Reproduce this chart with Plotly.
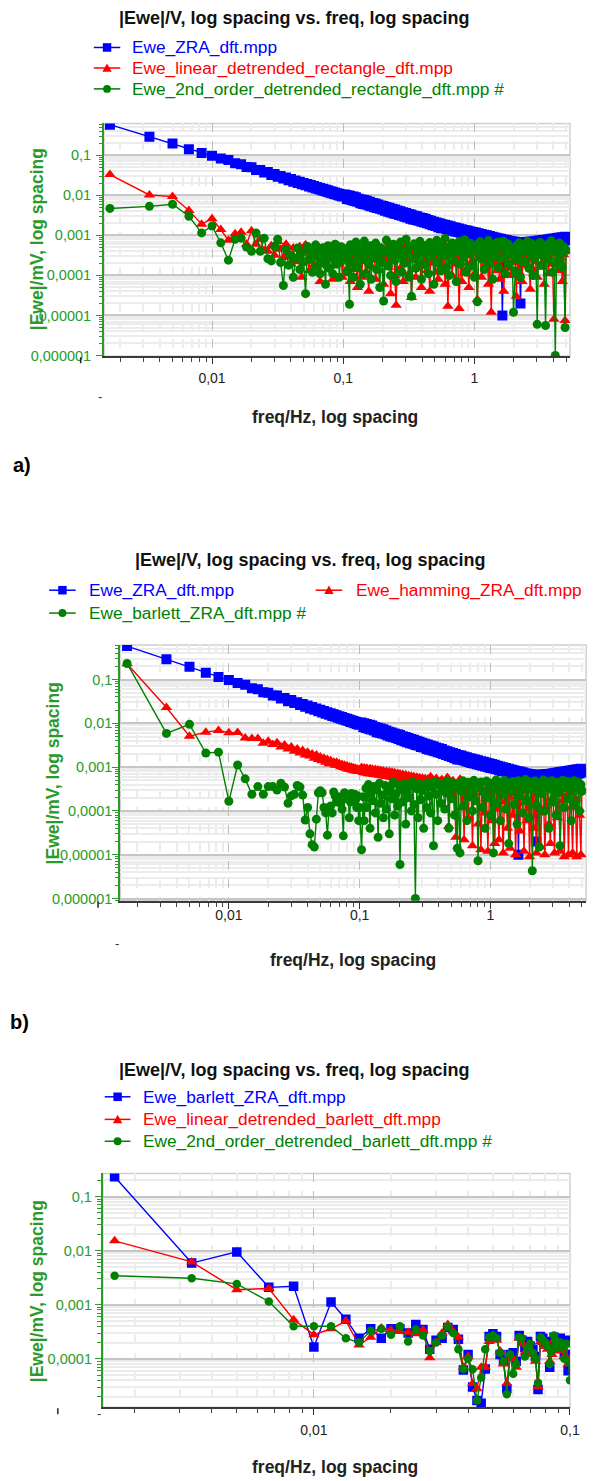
import plotly.graph_objects as go

# ---------------------------------------------------------------- data
# DFT bin numbers (bin width 1/600 Hz); low bins are shown one by one,
# the high bins are a log-thinned selection up to the 5 Hz Nyquist limit.
BIN_WIDTH_HZ = 1.0 / 600.0
BIN_LOW = [1, 2, 3, 4, 5, 6, 7, 8, 9, 10,
           11, 12, 13, 14, 15, 16, 17, 18, 19, 20,
           21, 22, 23, 24, 25, 26, 27, 28, 29, 30,
           31, 32, 33, 34, 35, 36, 37, 38, 39, 40,
           41, 42, 43, 44, 45, 46, 47, 48, 49, 50,
           51, 52, 53, 54, 55, 56, 57, 58, 59, 60]
BIN_HIGH = [62, 64, 65, 67, 68, 70, 72, 73, 75, 77,
            79, 81, 83, 85, 87, 89, 91, 94, 96, 98,
            101, 103, 106, 108, 111, 114, 117, 119, 122, 125,
            128, 132, 135, 138, 142, 145, 149, 152, 156, 160,
            164, 168, 172, 176, 181, 185, 190, 195, 199, 204,
            209, 215, 220, 225, 231, 237, 243, 249, 255, 261,
            268, 274, 281, 288, 295, 303, 310, 318, 326, 334,
            342, 351, 359, 368, 377, 387, 396, 406, 416, 427,
            437, 448, 459, 471, 482, 494, 507, 519, 532, 545,
            559, 573, 587, 601, 616, 632, 647, 663, 680, 697,
            714, 732, 750, 768, 787, 807, 827, 847, 868, 890,
            912, 934, 957, 981, 1005, 1030, 1056, 1082, 1109, 1136,
            1164, 1193, 1223, 1253, 1284, 1316, 1348, 1382, 1416, 1451,
            1487, 1524, 1561, 1600, 1640, 1680, 1722, 1764, 1808, 1853,
            1899, 1946, 1994, 2043, 2094, 2145, 2198, 2253, 2309, 2366,
            2424, 2484, 2546, 2609, 2673, 2739, 2807, 2877, 2948, 3000]

# Ewe_ZRA_dft.mpp
ZRA_LOW = [0.58, 0.29, 0.197, 0.142, 0.114, 0.097, 0.083, 0.076, 0.063, 0.060,
           0.051, 0.050, 0.043, 0.043, 0.037, 0.038, 0.032, 0.034, 0.029, 0.0305,
           0.0262, 0.0278, 0.0238, 0.0255, 0.0219, 0.0235, 0.0203, 0.0218, 0.0189, 0.0204,
           0.0177, 0.0191, 0.0166, 0.0180, 0.0157, 0.0170, 0.0148, 0.0161, 0.0141, 0.0153,
           0.0134, 0.0146, 0.0128, 0.0139, 0.0122, 0.0133, 0.0117, 0.0127, 0.0113, 0.0122,
           0.0108, 0.0118, 0.0104, 0.0113, 0.0100, 0.0109, 0.0097, 0.0105, 0.0093, 0.0102]
ZRA_HIGH = [0.0105, 0.0081, 0.0101, 0.0078, 0.0097, 0.0075, 0.0093, 0.0072, 0.0089, 0.0069,
            0.0082, 0.0063, 0.0079, 0.0061, 0.0076, 0.0059, 0.0073, 0.0056, 0.0069, 0.0053,
            0.0064, 0.0050, 0.0062, 0.0048, 0.0059, 0.0046, 0.0056, 0.0044, 0.0054, 0.0041,
            0.0051, 0.0039, 0.0049, 0.0037, 0.0046, 0.0035, 0.0044, 0.0034, 0.0042, 0.0032,
            0.0040, 0.0031, 0.0038, 0.0029, 0.0036, 0.0028, 0.0034, 0.0026, 0.0033, 0.0025,
            0.0031, 0.0024, 0.0030, 0.0023, 0.0028, 0.0022, 0.0027, 0.0021, 0.0026, 0.0020,
            0.0024, 0.0019, 0.0023, 0.0018, 0.0022, 0.0017, 0.0021, 0.0016, 0.0020, 0.0015,
            0.0019, 0.00150, 0.00184, 0.00143, 0.00176, 0.00137, 0.00168, 0.00131, 0.00160, 0.00125,
            0.00155, 0.00121, 0.00149, 0.00116, 0.00143, 0.00112, 0.00137, 0.00108, 0.00132, 0.00104,
            0.00127, 0.00100, 0.00122, 0.00096, 0.00118, 0.00093, 0.00113, 0.00089, 0.00108, 0.00085,
            0.00104, 0.00082, 0.00100, 0.00079, 0.00096, 0.00076, 0.00092, 0.00073, 0.00088, 0.00070,
            0.00085, 0.00067, 0.00082, 0.00001, 0.00079, 0.00062, 0.00076, 0.00060, 0.00073, 0.00058,
            0.00071, 0.00056, 0.00069, 0.00054, 0.00068, 0.00053, 0.00002, 0.00052, 0.00067, 0.00053,
            0.00068, 0.00054, 0.00069, 0.00055, 0.00070, 0.00056, 0.00071, 0.00057, 0.00073, 0.00058,
            0.00074, 0.00059, 0.00076, 0.00060, 0.00078, 0.00062, 0.00080, 0.00063, 0.00082, 0.00065,
            0.00084, 0.00066, 0.00086, 0.00068, 0.00088, 0.00070, 0.00090, 0.00072, 0.00092, 0.00075]

# Ewe_linear_detrended_rectangle_dft.mpp
LIN_RECT_LOW = [0.033, 0.0102, 0.0093, 0.0042, 0.0019, 0.0026, 0.0014, 0.00075, 0.0011, 0.0012,
                0.0006, 0.0013, 0.0006, 0.0008, 0.00042, 0.0004, 0.00055, 0.00032, 0.0007, 0.00045,
                0.00028, 0.0006, 0.00035, 0.00019, 0.00048, 0.00022, 0.0003, 0.00052, 0.00009, 0.0004,
                0.00058, 0.00025, 0.00013, 0.00036, 0.00044, 0.00018, 0.0003, 0.00054, 0.00021, 0.00007,
                0.00033, 0.00046, 0.0002, 0.00028, 0.0005, 0.00017, 0.00038, 0.00025, 0.00045, 0.00008,
                0.0003, 0.00041, 0.00022, 0.00034, 0.00055, 0.00019, 0.00031, 0.00043, 0.00009, 0.00026]
LIN_RECT_HIGH = [0.00038, 0.00011, 0.00026, 0.00052, 0.00007, 0.00019, 0.00041, 0.00014, 0.00031, 0.00005,
                 0.00047, 0.00022, 0.00009, 0.00035, 0.00060, 0.00012, 0.00028, 0.00004, 0.00044, 0.00017,
                 0.00033, 0.00055, 0.00008, 0.00024, 0.00039, 0.00013, 0.00050, 0.00030, 0.00006, 0.00021,
                 0.00042, 0.00016, 0.00065, 0.000035, 0.00027, 0.00046, 0.00010, 0.000018, 0.00036, 0.00054,
                 0.00015, 0.00032, 0.00007, 0.00048, 0.00023, 0.00058, 0.00011, 0.00037, 0.000028, 0.00026,
                 0.00044, 0.00009, 0.00034, 0.00062, 0.00018, 0.00005, 0.00040, 0.00025, 0.00051, 0.00013,
                 0.00030, 0.00004, 0.00046, 0.00020, 0.00057, 0.00012, 0.00035, 0.00008, 0.00027, 0.00049,
                 0.00016, 0.00038, 0.00006, 0.00053, 0.000017, 0.00029, 0.00043, 0.00010, 0.00033, 0.00060,
                 0.00019, 0.00045, 0.000015, 0.00028, 0.00007, 0.00040, 0.00055, 0.00014, 0.00031, 0.00005,
                 0.00047, 0.00022, 0.00036, 0.00011, 0.00058, 0.000025, 0.00026, 0.00042, 0.00009, 0.00034,
                 0.00052, 0.00017, 0.00039, 0.00006, 0.00029, 0.000012, 0.00045, 0.00020, 0.00056, 0.00013,
                 0.00035, 0.00008, 0.00048, 0.00024, 0.00004, 0.00037, 0.00060, 0.00015, 0.00030, 0.00010,
                 0.00044, 0.00021, 0.00053, 0.000030, 0.00033, 0.00012, 0.00046, 0.00007, 0.00027, 0.00041,
                 0.00018, 0.00057, 0.00025, 0.000045, 0.00038, 0.00014, 0.00050, 0.00022, 0.00009, 0.00035,
                 0.00061, 0.00016, 0.00043, 0.00006, 0.00031, 0.00048, 0.00011, 0.00026, 0.00040, 0.00019,
                 0.000008, 0.00036, 0.00054, 0.00013, 0.00029, 0.00045, 0.00007, 0.00033, 0.0000075, 0.00039]

# Ewe_2nd_order_detrended_rectangle_dft.mpp
QUAD_RECT_LOW = [0.0047, 0.0053, 0.006, 0.003, 0.00115, 0.0017, 0.00065, 0.00024, 0.0008, 0.00085,
                 0.00051, 0.0004, 0.00115, 0.0004, 0.00085, 0.00026, 0.00023, 0.00053, 0.0008, 0.00021,
                 0.000056, 0.00045, 0.00018, 0.00032, 0.00009, 0.00027, 0.00048, 0.00014, 0.00036, 0.00022,
                 0.000035, 0.00053, 0.00025, 0.00041, 0.00012, 0.0003, 0.00058, 0.00017, 0.00039, 0.00011,
                 0.00026, 0.00049, 0.0002, 0.00006, 0.00034, 0.00055, 0.00015, 0.00029, 0.00044, 0.00011,
                 0.00037, 0.0006, 0.00019, 0.00027, 0.00047, 0.00009, 0.00033, 0.00052, 0.00023, 0.0004]
QUAD_RECT_HIGH = [0.00046, 0.00013, 0.00031, 0.000019, 0.00058, 0.00022, 0.00009, 0.00040, 0.00068, 0.00016,
                  0.00035, 0.00006, 0.00050, 0.00025, 0.00072, 0.00011, 0.00038, 0.00019, 0.00055, 0.00008,
                  0.00043, 0.00028, 0.00064, 0.00014, 0.00033, 0.00005, 0.00048, 0.00021, 0.000023, 0.00039,
                  0.00076, 0.00017, 0.00052, 0.00010, 0.00036, 0.00060, 0.00024, 0.00007, 0.00045, 0.00029,
                  0.00068, 0.00012, 0.00041, 0.00020, 0.00080, 0.00034, 0.00009, 0.00053, 0.00003, 0.00027,
                  0.00062, 0.00015, 0.00047, 0.00023, 0.00071, 0.00008, 0.00037, 0.00056, 0.00018, 0.00042,
                  0.00011, 0.00066, 0.00030, 0.00050, 0.00006, 0.00039, 0.00075, 0.00021, 0.00044, 0.00013,
                  0.00058, 0.00032, 0.00084, 0.00016, 0.00048, 0.00010, 0.00036, 0.00064, 0.00024, 0.00054,
                  0.00007, 0.00041, 0.00070, 0.00019, 0.00046, 0.00028, 0.00078, 0.00012, 0.00052, 0.00035,
                  0.00063, 0.00017, 0.00043, 0.00009, 0.00057, 0.000022, 0.00038, 0.00069, 0.00026, 0.00049,
                  0.00014, 0.00060, 0.00033, 0.00074, 0.00020, 0.00045, 0.00008, 0.00056, 0.00030, 0.00066,
                  0.00016, 0.00068, 0.00051, 0.00027, 0.00071, 0.00011, 0.00042, 0.00061, 0.00019, 0.00047,
                  0.00034, 0.000012, 0.00013, 0.00055, 0.00025, 0.00065, 0.00009, 0.00040, 0.00058, 0.00022,
                  0.00048, 0.00070, 0.00015, 0.00037, 0.00062, 0.00010, 0.00053, 0.00029, 0.000006, 0.00044,
                  0.00067, 0.00018, 0.00050, 0.00031, 0.0000056, 0.00059, 0.00024, 0.00046, 0.00073, 0.00012,
                  0.00039, 0.000001, 0.00057, 0.00021, 0.00064, 0.00035, 0.00016, 0.00052, 0.000005, 0.00043]

# Ewe_hamming_ZRA_dft.mpp
HAMMING_LOW = [0.23, 0.023, 0.0051, 0.0063, 0.0069, 0.0061, 0.0062, 0.0046, 0.0045, 0.0045,
               0.0035, 0.0039, 0.0033, 0.0036, 0.0029, 0.0032, 0.0026, 0.0029, 0.0023, 0.0026,
               0.0021, 0.0024, 0.0019, 0.0022, 0.0018, 0.0020, 0.0016, 0.0019, 0.0015, 0.0017,
               0.0014, 0.0016, 0.0013, 0.0015, 0.0012, 0.0014, 0.0012, 0.0013, 0.0011, 0.0013,
               0.0011, 0.0012, 0.00102, 0.00115, 0.00098, 0.0011, 0.00094, 0.00106, 0.0009, 0.00102,
               0.00088, 0.00099, 0.00085, 0.00096, 0.00083, 0.00093, 0.00081, 0.0009, 0.00079, 0.00088]
HAMMING_HIGH = [0.00098, 0.00075, 0.00096, 0.00073, 0.00094, 0.00071, 0.00092, 0.00070, 0.00090, 0.00068,
                0.00088, 0.00067, 0.00086, 0.00065, 0.00084, 0.00064, 0.00082, 0.00062, 0.00080, 0.00061,
                0.00078, 0.00059, 0.00076, 0.00058, 0.00074, 0.00056, 0.00072, 0.00055, 0.00070, 0.00053,
                0.00068, 0.00052, 0.00066, 0.00050, 0.00064, 0.00049, 0.00062, 0.00047, 0.00060, 0.00046,
                0.00059, 0.00045, 0.00057, 0.00044, 0.00056, 0.00042, 0.00054, 0.00041, 0.00053, 0.00040,
                0.00060, 0.00039, 0.00050, 0.00037, 0.00055, 0.00036, 0.00047, 0.00028, 0.00052, 0.00034,
                0.00045, 0.00031, 0.00058, 0.000045, 0.00038, 0.00026, 0.00049, 0.00033, 0.000025, 0.00042,
                0.00030, 0.00053, 0.00012, 0.00036, 0.000022, 0.00044, 0.00024, 0.00007, 0.00039, 0.00028,
                0.000016, 0.00041, 0.00019, 0.00033, 0.00005, 0.00037, 0.000013, 0.00026, 0.00043, 0.00009,
                0.00031, 0.000012, 0.00022, 0.00038, 0.00006, 0.00029, 0.000018, 0.00035, 0.00011, 0.000022,
                0.00040, 0.00016, 0.000011, 0.00027, 0.00034, 0.00004, 0.00021, 0.000014, 0.00037, 0.00008,
                0.00025, 0.000010, 0.00032, 0.00015, 0.000035, 0.00039, 0.00020, 0.000012, 0.00028, 0.00006,
                0.00036, 0.000009, 0.00018, 0.00030, 0.00004, 0.00023, 0.000011, 0.00033, 0.00009, 0.000015,
                0.00027, 0.00038, 0.000010, 0.00013, 0.00031, 0.00005, 0.000018, 0.00035, 0.00020, 0.000011,
                0.00029, 0.00007, 0.00037, 0.000012, 0.00024, 0.00017, 0.000009, 0.00032, 0.00045, 0.000010,
                0.00026, 0.00012, 0.000011, 0.00034, 0.00019, 0.000009, 0.00030, 0.00008, 0.000010, 0.00033]

# Ewe_barlett_ZRA_dft.mpp
BARLETT_LOW = [0.233, 0.0059, 0.0095, 0.0021, 0.0022, 0.000166, 0.00112, 0.00054, 0.00024, 0.00036,
               0.00024, 0.00036, 0.00036, 0.0003, 0.00043, 0.00035, 0.00015, 0.00022, 0.00024, 0.00038,
               0.00035, 0.00023, 0.000062, 0.00012, 0.00003, 0.000017, 0.000015, 0.000065, 0.00026, 0.00029,
               0.00026, 0.00012, 0.00009, 0.000028, 0.00012, 0.00013, 0.00009, 0.00027, 0.00022, 0.00016,
               0.00021, 0.00017, 0.00015, 0.00011, 0.000027, 0.00026, 0.00024, 0.00019, 0.00021, 0.00007,
               0.00016, 0.00025, 0.00023, 0.00017, 0.00024, 0.00018, 0.00012, 0.00022, 0.00006, 0.00012]
BARLETT_HIGH = [0.000013, 0.00021, 0.00006, 0.00033, 0.00012, 0.00040, 0.00004, 0.00026, 0.00017, 0.00036,
                0.00009, 0.00030, 0.000025, 0.00043, 0.00015, 0.00023, 0.00007, 0.00038, 0.00011, 0.00028,
                0.00003, 0.00035, 0.00019, 0.00045, 0.00008, 0.00025, 0.00013, 0.00039, 0.000006, 0.00031,
                0.00016, 0.00042, 0.00005, 0.00027, 0.00020, 0.00037, 0.00010, 0.00046, 0.00014, 0.000001,
                0.00032, 0.00007, 0.00041, 0.00018, 0.00029, 0.00004, 0.00036, 0.00012, 0.00044, 0.00022,
                0.00009, 0.00034, 0.000016, 0.00047, 0.00024, 0.00006, 0.00039, 0.00015, 0.00030, 0.00042,
                0.00011, 0.00026, 0.00048, 0.00004, 0.00035, 0.00019, 0.00044, 0.00008, 0.00033, 0.000014,
                0.00040, 0.000011, 0.00028, 0.00049, 0.00013, 0.00037, 0.00006, 0.00045, 0.00021, 0.00032,
                0.00010, 0.00050, 0.00017, 0.00041, 0.0000073, 0.00034, 0.00046, 0.00012, 0.00027, 0.00004,
                0.00048, 0.00020, 0.00036, 0.00008, 0.00043, 0.000011, 0.00031, 0.00051, 0.00015, 0.00039,
                0.00006, 0.00045, 0.00024, 0.00050, 0.00011, 0.00035, 0.000018, 0.00042, 0.00029, 0.00047,
                0.00014, 0.00038, 0.00005, 0.00049, 0.00022, 0.00044, 0.00009, 0.00033, 0.00052, 0.00017,
                0.00040, 0.00007, 0.00046, 0.0000043, 0.00030, 0.00048, 0.00013, 0.00037, 0.000015, 0.00043,
                0.00025, 0.00051, 0.00010, 0.00036, 0.00046, 0.00004, 0.00032, 0.00049, 0.00016, 0.00041,
                0.00008, 0.00045, 0.00027, 0.000016, 0.00039, 0.00050, 0.00012, 0.00034, 0.00047, 0.00019,
                0.00043, 0.00006, 0.00037, 0.00049, 0.00014, 0.00031, 0.00046, 0.00010, 0.00040, 0.00028]

# Ewe_linear_detrended_barlett_dft.mpp
LIN_BARLETT = [0.0152, 0.0062, 0.0019, 0.002, 0.00053, 0.00028, 0.00036, 0.0005, 0.00018, 0.00025,
               0.00037, 0.00034, 0.00032, 0.00031, 0.00029, 0.00034, 0.000105, 0.0002, 0.0003, 0.00043,
               0.00032, 0.00025, 0.00007, 0.00011, 0.000035, 0.000028, 0.00007, 0.00007, 0.00021, 0.00027,
               0.00022, 0.00014, 0.00008, 0.000035, 0.00011, 0.0001, 0.00007, 0.00024, 0.00019, 0.00013,
               0.00018, 0.00015, 0.00012, 0.00009, 0.00003, 0.00021, 0.0002, 0.00017, 0.00015, 0.00009,
               0.00012, 0.00022, 0.0002, 0.00014, 0.00019, 0.00015, 0.00011, 0.00018, 0.00008, 0.0001]

# Ewe_2nd_order_detrended_barlett_dft.mpp
QUAD_BARLETT = [0.00345, 0.0031, 0.00243, 0.00115, 0.0004, 0.0004, 0.0004, 0.00024, 0.0002, 0.00033,
                0.00036, 0.00028, 0.0004, 0.00021, 0.00035, 0.00027, 0.00014, 0.0002, 0.00027, 0.00039,
                0.0003, 0.00015, 0.000065, 0.0001, 0.000064, 0.000017, 0.000045, 0.00015, 0.00025, 0.00027,
                0.00024, 0.00013, 0.00009, 0.000022, 0.00012, 0.000053, 0.00008, 0.00025, 0.00024, 0.00011,
                0.00016, 0.00019, 0.00013, 0.0001, 0.000036, 0.00025, 0.00022, 0.0002, 0.00017, 0.00008,
                0.00014, 0.00027, 0.00021, 0.00016, 0.0002, 0.00017, 0.0001, 0.00019, 0.00009, 0.00004]

Y_TICK_VALS = [0.1, 0.01, 0.001, 0.0001, 0.00001, 0.000001]
Y_TICK_TEXT = ["0,1", "0,01", "0,001", "0,0001", "0,00001", "0,000001"]
X_TICK_VALS = [0.01, 0.1, 1]
X_TICK_TEXT = ["0,01", "0,1", "1"]

# ---------------------------------------------------------------- style
W, H = 603, 1481
BLUE, RED, GREEN = "#0000ff", "#ff0000", "#008000"
AXIS_GREEN = "#2a9a2a"
FONT = "Liberation Sans, Arial, sans-serif"


def px(x):
    return x / W


def py(y):
    return 1 - y / H


freq_low = [b * BIN_WIDTH_HZ for b in BIN_LOW]
freq_all = freq_low + [b * BIN_WIDTH_HZ for b in BIN_HIGH]

MINOR = [m * 10.0 ** e for e in range(-7, 1) for m in range(2, 10)]

SYMBOLS = {BLUE: "square", RED: "triangle-up", GREEN: "circle"}
SIZES_WIDE = {BLUE: 10, RED: 10, GREEN: 9}
SIZES_ZOOM = {BLUE: 9.5, RED: 10, GREEN: 8.5}

fig = go.Figure()


def series(name, x, y, color, axis, sizes):
    fig.add_trace(go.Scatter(
        x=x, y=y, mode="lines+markers", name=name,
        line=dict(color=color, width=1.4),
        marker=dict(color=color, symbol=SYMBOLS[color], size=sizes[color], line=dict(width=0)),
        xaxis="x" + axis, yaxis="y" + axis, showlegend=False,
    ))


# panel a
series("Ewe_ZRA_dft.mpp", freq_all, ZRA_LOW + ZRA_HIGH, BLUE, "", SIZES_WIDE)
series("Ewe_linear_detrended_rectangle_dft.mpp", freq_all, LIN_RECT_LOW + LIN_RECT_HIGH,
       RED, "", SIZES_WIDE)
series("Ewe_2nd_order_detrended_rectangle_dft.mpp #", freq_all, QUAD_RECT_LOW + QUAD_RECT_HIGH,
       GREEN, "", SIZES_WIDE)
# panel b
series("Ewe_ZRA_dft.mpp", freq_all, ZRA_LOW + ZRA_HIGH, BLUE, "2", SIZES_WIDE)
series("Ewe_hamming_ZRA_dft.mpp", freq_all, HAMMING_LOW + HAMMING_HIGH, RED, "2", SIZES_WIDE)
series("Ewe_barlett_ZRA_dft.mpp #", freq_all, BARLETT_LOW + BARLETT_HIGH, GREEN, "2", SIZES_WIDE)
# panel c
series("Ewe_barlett_ZRA_dft.mpp", freq_low, BARLETT_LOW, BLUE, "3", SIZES_ZOOM)
series("Ewe_linear_detrended_barlett_dft.mpp", freq_low, LIN_BARLETT, RED, "3", SIZES_ZOOM)
series("Ewe_2nd_order_detrended_barlett_dft.mpp #", freq_low, QUAD_BARLETT, GREEN, "3", SIZES_ZOOM)

# plot areas in pixels: left, right, top, bottom, x log-range, y log-range,
# tick-label standoffs for the y and x axes
PANELS = [
    dict(l=105.8, r=579.6, t=124, b=358, xr=[-2.823, 0.729], yr=[-6.02, -0.205], ys=2, xs=2),
    dict(l=122.3, r=596.0, t=648, b=905, xr=[-2.830, 0.731], yr=[-6.05, -0.21], ys=-3, xs=-6),
    dict(l=104.6, r=579.6, t=1179, b=1414, xr=[-2.824, -1.0], yr=[-4.897, -0.571], ys=0, xs=3),
]

layout_axes = {}
shapes = []
for i, p in enumerate(PANELS):
    sfx = "" if i == 0 else str(i + 1)
    layout_axes["xaxis" + sfx] = dict(
        type="log", domain=[px(p["l"]), px(p["r"])], range=p["xr"],
        anchor="y" + sfx, tickvals=X_TICK_VALS, ticktext=X_TICK_TEXT,
        ticks="outside", ticklen=6, tickwidth=1.2, tickcolor="#333333",
        tickfont=dict(size=14, color="#222222", family=FONT),
        showline=True, linecolor="#3a3a3a", linewidth=2,
        showgrid=True, gridcolor="#bdbdbd", gridwidth=1.2, griddash="dash",
        minor=dict(tickvals=MINOR, ticks="outside", ticklen=4, tickcolor="#444444",
                   showgrid=True, gridcolor="#ececec", gridwidth=1.5),
        zeroline=False, ticklabelstandoff=p["xs"],
    )
    layout_axes["yaxis" + sfx] = dict(
        type="log", domain=[py(p["b"]), py(p["t"])], range=p["yr"],
        anchor="x" + sfx, tickvals=Y_TICK_VALS, ticktext=Y_TICK_TEXT,
        ticks="outside", ticklen=6, tickwidth=1.2, tickcolor=AXIS_GREEN,
        tickfont=dict(size=14.5, color=AXIS_GREEN, family=FONT),
        showline=True, linecolor=AXIS_GREEN, linewidth=2,
        showgrid=True, gridcolor="#c6c6c6", gridwidth=2,
        minor=dict(tickvals=MINOR, ticks="outside", ticklen=3.5, tickcolor=AXIS_GREEN,
                   showgrid=True, gridcolor="#ececec", gridwidth=1.5),
        zeroline=False, ticklabelstandoff=p["ys"],
    )
    shapes.append(dict(type="rect", xref="x%s domain" % sfx, yref="y%s domain" % sfx,
                       x0=0, x1=1, y0=0, y1=1, line=dict(color="#cfcfcf", width=1.5),
                       layer="below"))

# stray tick marks just left of each plot area
for (xm, ym) in [(82, 358), (99.7, 905), (58.8, 1414)]:
    shapes.append(dict(type="line", xref="paper", yref="paper",
                       x0=px(xm), x1=px(xm), y0=py(ym + 1), y1=py(ym + 7),
                       line=dict(color="#222222", width=1.5)))

annotations = []
TITLE = "<b>|Ewe|/V, log spacing vs. freq, log spacing</b>"
for (xc, yc) in [(299, 18), (316, 563), (299, 1075)]:
    annotations.append(dict(text=TITLE, x=px(xc), y=py(yc), xref="paper", yref="paper",
                            xanchor="center", yanchor="middle", showarrow=False,
                            font=dict(size=18, color="#111111", family=FONT)))
for (xc, yc) in [(341, 419), (359, 965), (341, 1474)]:
    annotations.append(dict(text="<b>freq/Hz, log spacing</b>", x=px(xc), y=py(yc),
                            xref="paper", yref="paper", xanchor="center", yanchor="middle",
                            showarrow=False, font=dict(size=17.5, color="#222222", family=FONT)))
for (xc, yc) in [(37, 240), (54, 777), (37, 1297)]:
    annotations.append(dict(text="<b>|Ewe|/mV, log spacing</b>", x=px(xc), y=py(yc),
                            xref="paper", yref="paper", xanchor="center", yanchor="middle",
                            textangle=-90, showarrow=False,
                            font=dict(size=17.5, color=AXIS_GREEN, family=FONT)))
for (txt, xc, yc) in [("a)", 22, 467), ("b)", 20, 1027)]:
    annotations.append(dict(text="<b>%s</b>" % txt, x=px(xc), y=py(yc), xref="paper",
                            yref="paper", xanchor="center", yanchor="middle", showarrow=False,
                            font=dict(size=20, color="#000000", family=FONT)))
for (xc, yc) in [(102, 398), (119, 948), (101, 1420)]:
    annotations.append(dict(text="-", x=px(xc), y=py(yc), xref="paper", yref="paper",
                            xanchor="center", yanchor="middle", showarrow=False,
                            font=dict(size=13, color="#333333", family=FONT)))

# legend entries: (label, colour, line x0, line x1, text x, row y) in pixels
LEGEND_ENTRIES = [
    ("Ewe_ZRA_dft.mpp", BLUE, 95.4, 122.3, 132.7, 47.7),
    ("Ewe_linear_detrended_rectangle_dft.mpp", RED, 95.4, 122.3, 132.7, 68.3),
    ("Ewe_2nd_order_detrended_rectangle_dft.mpp #", GREEN, 95.4, 122.3, 132.7, 89.3),
    ("Ewe_ZRA_dft.mpp", BLUE, 50, 77, 88, 593),
    ("Ewe_hamming_ZRA_dft.mpp", RED, 321, 348, 360, 593),
    ("Ewe_barlett_ZRA_dft.mpp #", GREEN, 50, 77, 88, 616),
    ("Ewe_barlett_ZRA_dft.mpp", BLUE, 106.5, 132.7, 143, 1102),
    ("Ewe_linear_detrended_barlett_dft.mpp", RED, 106.5, 132.7, 143, 1124.7),
    ("Ewe_2nd_order_detrended_barlett_dft.mpp #", GREEN, 106.5, 132.7, 143, 1146.7),
]
for (label, color, x0, x1, tx, yc) in LEGEND_ENTRIES:
    shapes.append(dict(type="line", xref="paper", yref="paper", x0=px(x0), x1=px(x1),
                       y0=py(yc), y1=py(yc), line=dict(color=color, width=1.5)))
    xm = (x0 + x1) / 2
    if color == BLUE:
        shapes.append(dict(type="rect", xref="paper", yref="paper",
                           x0=px(xm - 4.3), x1=px(xm + 4.3), y0=py(yc + 4.3), y1=py(yc - 4.3),
                           fillcolor=color, line=dict(width=0)))
    elif color == RED:
        path = "M %f,%f L %f,%f L %f,%f Z" % (px(xm - 4.8), py(yc + 3.8), px(xm + 4.8), py(yc + 3.8),
                                              px(xm), py(yc - 4.6))
        shapes.append(dict(type="path", xref="paper", yref="paper", path=path,
                           fillcolor=color, line=dict(width=0)))
    else:
        shapes.append(dict(type="circle", xref="paper", yref="paper",
                           x0=px(xm - 4), x1=px(xm + 4), y0=py(yc + 4), y1=py(yc - 4),
                           fillcolor=color, line=dict(width=0)))
    annotations.append(dict(text=label, x=px(tx), y=py(yc), xref="paper", yref="paper",
                            xanchor="left", yanchor="middle", showarrow=False,
                            font=dict(size=17.3, color=color, family=FONT)))

fig.update_layout(
    width=W, height=H, margin=dict(l=0, r=0, t=0, b=0),
    paper_bgcolor="white", plot_bgcolor="white",
    font=dict(family=FONT), showlegend=False,
    shapes=shapes, annotations=annotations,
    **layout_axes,
)

fig.write_html("out.html")
